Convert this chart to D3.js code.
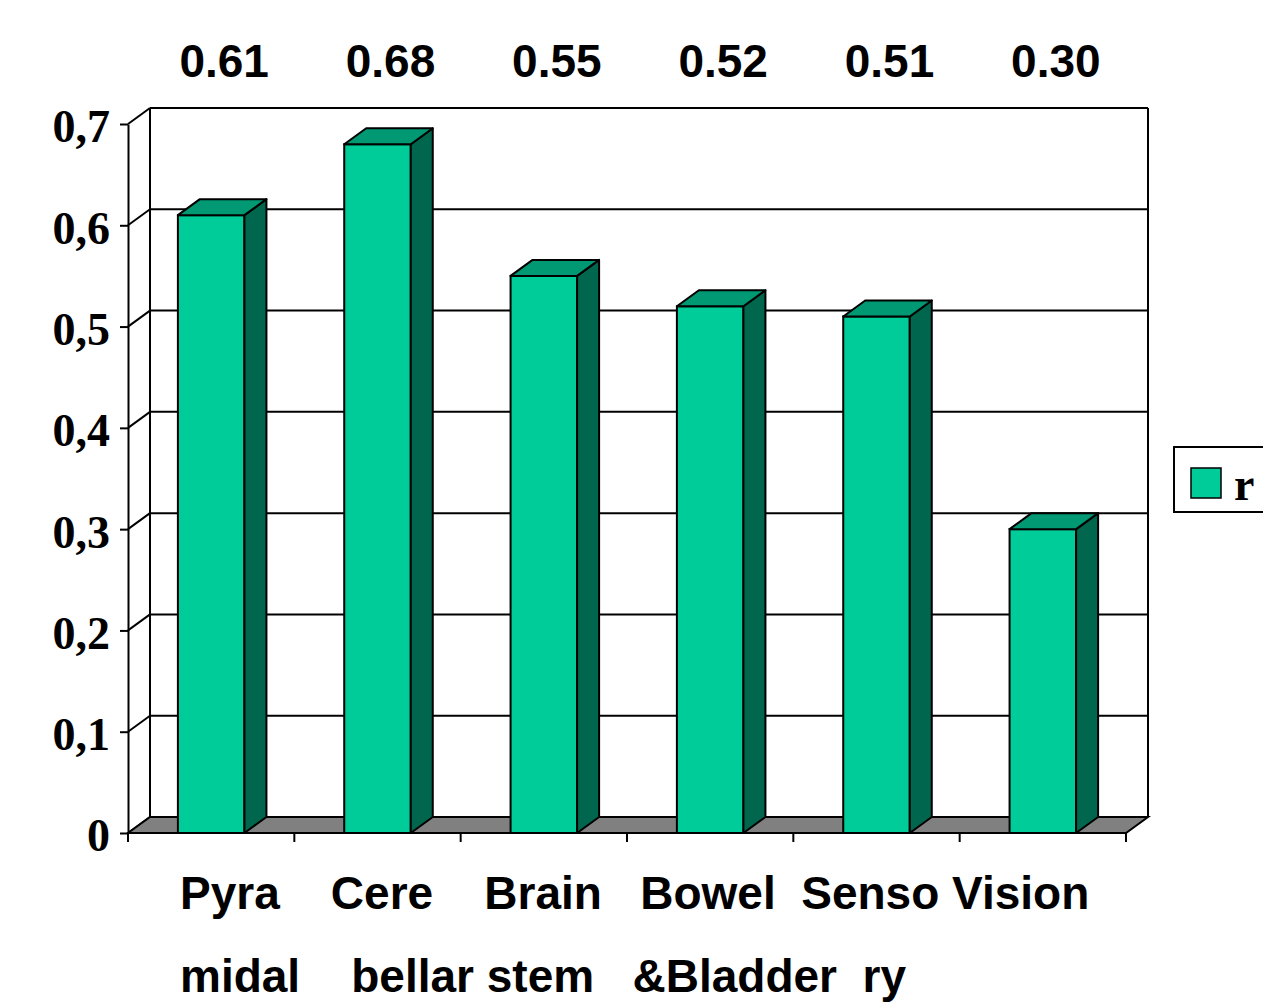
<!DOCTYPE html>
<html>
<head>
<meta charset="utf-8">
<script src="https://cdn.jsdelivr.net/npm/d3@7/dist/d3.min.js"></script>
<style>
  html, body { margin: 0; padding: 0; background: #fff; }
  svg { display: block; }
  .sans { font-family: "Liberation Sans", Arial, sans-serif; font-weight: bold; }
  .serif { font-family: "Liberation Serif", "Times New Roman", serif; font-weight: bold; }
</style>
</head>
<body>
<svg id="chart" width="1263" height="1003"></svg>
<script>
// Correlation (r) per functional system
const categories = ["Pyramidal", "Cerebellar", "Brainstem", "Bowel&Bladder", "Sensory", "Vision"];
const values = [0.61, 0.68, 0.55, 0.52, 0.51, 0.30];
const valueLabels = ["0.61", "0.68", "0.55", "0.52", "0.51", "0.30"];
const yTicks = [0, 0.1, 0.2, 0.3, 0.4, 0.5, 0.6, 0.7];
// Category names are set as two text lines, split across the words
const categoryLines = [
  "Pyra    Cere    Brain   Bowel  Senso Vision",
  "midal    bellar stem   &Bladder  ry"
];
const seriesName = "r";

const svg = d3.select("#chart");
const W = 1263, H = 1003;
svg.append("rect").attr("width", W).attr("height", H).attr("fill", "#fff");

const plotLeft = 128, plotRight = 1126, plotBottom = 833, plotTop = 124;
const dx = 22, dy = -16;          // 3-D depth offset
const stroke = "#000", sw = 2;
const colFront = "#00CC99", colTop = "#009973", colSide = "#00664D", colFloor = "#808080";

const x = d3.scaleBand().domain(categories).range([plotLeft, plotRight])
  .paddingInner(0.6).paddingOuter(0.3);
const step = x.step();
const y = d3.scaleLinear().domain([0, 0.7]).range([plotBottom, plotTop]);

// back wall: horizontal gridlines and left-wall diagonals
const wall = svg.append("g");
yTicks.forEach(t => {
  if (t > 0) {
    wall.append("line")
      .attr("x1", plotLeft + dx).attr("x2", plotRight + dx)
      .attr("y1", y(t) + dy).attr("y2", y(t) + dy)
      .attr("stroke", stroke).attr("stroke-width", sw);
  }
  wall.append("line")
    .attr("x1", plotLeft).attr("y1", y(t))
    .attr("x2", plotLeft + dx).attr("y2", y(t) + dy)
    .attr("stroke", stroke).attr("stroke-width", sw);
});
wall.append("line")
  .attr("x1", plotLeft + dx).attr("x2", plotLeft + dx)
  .attr("y1", y(0.7) + dy).attr("y2", y(0) + dy)
  .attr("stroke", stroke).attr("stroke-width", sw);
wall.append("line")
  .attr("x1", plotRight + dx).attr("x2", plotRight + dx)
  .attr("y1", y(0.7) + dy).attr("y2", y(0) + dy)
  .attr("stroke", stroke).attr("stroke-width", sw);

// floor
svg.append("path")
  .attr("d", `M${plotLeft},${y(0)} L${plotRight},${y(0)} L${plotRight + dx},${y(0) + dy} L${plotLeft + dx},${y(0) + dy} Z`)
  .attr("fill", colFloor).attr("stroke", stroke).attr("stroke-width", sw);

// category boundary ticks on the front axis
const bounds = d3.range(categories.length + 1).map(i => plotLeft + i * step);
svg.append("g").selectAll("line").data(bounds).join("line")
  .attr("x1", d => d).attr("x2", d => d)
  .attr("y1", plotBottom).attr("y2", plotBottom + 9)
  .attr("stroke", stroke).attr("stroke-width", sw);

// bars
const bars = svg.append("g").selectAll("g").data(values).join("g");
bars.each(function(v, i) {
  const g = d3.select(this);
  const x0 = x(categories[i]), x1 = x0 + x.bandwidth();
  const yt = y(v), yb = y(0);
  g.append("rect")
    .attr("x", x0).attr("y", yt).attr("width", x1 - x0).attr("height", yb - yt)
    .attr("fill", colFront).attr("stroke", stroke).attr("stroke-width", sw);
  g.append("path")
    .attr("d", `M${x1},${yt} L${x1 + dx},${yt + dy} L${x1 + dx},${yb + dy} L${x1},${yb} Z`)
    .attr("fill", colSide).attr("stroke", stroke).attr("stroke-width", sw)
    .attr("stroke-linejoin", "round");
  g.append("path")
    .attr("d", `M${x0},${yt} L${x0 + dx},${yt + dy} L${x1 + dx},${yt + dy} L${x1},${yt} Z`)
    .attr("fill", colTop).attr("stroke", stroke).attr("stroke-width", sw)
    .attr("stroke-linejoin", "round");
});

// y axis
const yAxis = d3.axisLeft(y).tickValues(yTicks).tickSize(8).tickSizeOuter(0).tickPadding(10)
  .tickFormat(d => d === 0 ? "0" : d3.format(".1f")(d).replace(".", ","));
const ga = svg.append("g").attr("transform", `translate(${plotLeft},0)`).call(yAxis);
ga.select(".domain").attr("stroke", stroke).attr("stroke-width", sw);
ga.selectAll(".tick line").attr("stroke", stroke).attr("stroke-width", sw);
ga.selectAll(".tick text")
  .attr("class", "serif").attr("font-size", 46).attr("fill", "#000").attr("dy", "0.39em");

// value labels above the plot
svg.append("g").selectAll("text").data(values).join("text")
  .attr("class", "sans").attr("font-size", 46).attr("text-anchor", "middle")
  .attr("x", (d, i) => x(categories[i]) + x.bandwidth() / 2 + 13)
  .attr("y", 77)
  .text((d, i) => valueLabels[i]);

// category names
svg.append("g").selectAll("text").data(categoryLines).join("text")
  .attr("class", "sans").attr("font-size", 46)
  .attr("x", 180).attr("y", (d, i) => 909 + i * 83)
  .style("white-space", "pre")
  .text(d => d);

// legend
const lg = svg.append("g");
lg.append("rect").attr("x", 1174).attr("y", 447).attr("width", 110).attr("height", 65)
  .attr("fill", "#fff").attr("stroke", stroke).attr("stroke-width", sw);
lg.append("rect").attr("x", 1191).attr("y", 468).attr("width", 30).attr("height", 30)
  .attr("fill", colFront).attr("stroke", stroke).attr("stroke-width", 1.5);
lg.append("text").attr("class", "serif").attr("font-size", 46)
  .attr("x", 1234).attr("y", 500).text(seriesName);
</script>
</body>
</html>
